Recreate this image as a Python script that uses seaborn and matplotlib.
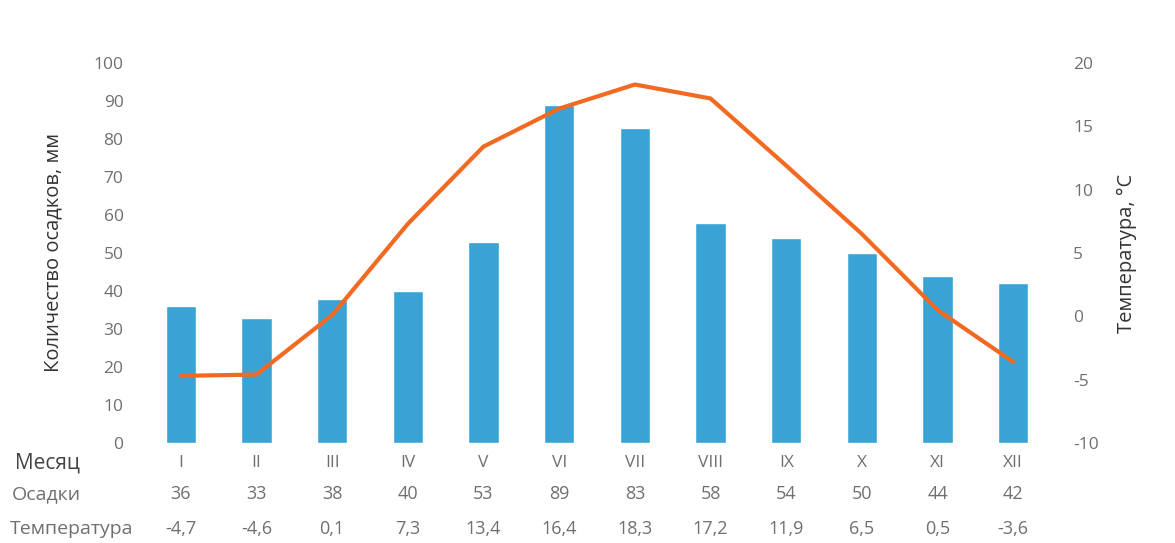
import matplotlib
matplotlib.use("Agg")
import matplotlib.pyplot as plt
import matplotlib.transforms as mtransforms
import seaborn as sns
import pandas as pd
import numpy as np

months = ["I", "II", "III", "IV", "V", "VI", "VII", "VIII", "IX", "X", "XI", "XII"]
precip = [36, 33, 38, 40, 53, 89, 83, 58, 54, 50, 44, 42]
temp = [-4.7, -4.6, 0.1, 7.3, 13.4, 16.4, 18.3, 17.2, 11.9, 6.5, 0.5, -3.6]
precip_labels = [str(v) for v in precip]
temp_labels = [f"{v:.1f}".replace(".", ",") for v in temp]
left_ticks = list(range(0, 101, 10))
right_ticks = list(range(-10, 21, 5))

sns.set_theme(style="white")
plt.rcParams['font.family'] = ['Open Sans', 'DejaVu Sans']

df = pd.DataFrame({"month": months, "precip": precip, "temp": temp, "idx": np.arange(len(months))})

grey = "#6f6f6f"
fig = plt.figure(figsize=(11.75, 5.43), dpi=100)
ax = fig.add_axes([0.1217, 0.1842, 0.7728, 0.6998])
sns.barplot(data=df, x="month", y="precip", color="#3aa3d5", saturation=1, width=0.4, ax=ax)
ax.set_ylim(0, 100)
ax.set_xlim(-0.5, len(months) - 0.5)
ax.set_yticks(left_ticks)
ax.set_yticklabels([str(t) for t in left_ticks], color=grey, fontsize=12.5)
ax.tick_params(axis="y", length=0, pad=14)
ax.tick_params(axis="x", length=0, pad=9, labelsize=12.5, labelcolor=grey)
ax.set_xlabel("")
ax.set_ylabel("Количество осадков, мм", fontsize=14.5, color="#333333", labelpad=22)
for s in ax.spines.values():
    s.set_visible(False)

ax2 = ax.twinx()
sns.lineplot(data=df, x="idx", y="temp", color="#f26a21", linewidth=3, ax=ax2)
ax2.set_ylim(-10, 20)
ax2.set_xlim(-0.5, len(months) - 0.5)
ax2.set_yticks(right_ticks)
ax2.set_yticklabels([str(t) for t in right_ticks], color=grey, fontsize=12.5)
ax2.tick_params(axis="y", length=0, pad=16)
ax2.set_ylabel("Температура, °С", fontsize=14.5, color="#333333", labelpad=13)
ax2.set_xlabel("")
for s in ax2.spines.values():
    s.set_visible(False)

trans = mtransforms.blended_transform_factory(ax.transData, fig.transFigure)
y_prec = 1 - 494 / 543
y_temp = 1 - 529 / 543
for i in range(len(months)):
    ax.text(i, y_prec, precip_labels[i], transform=trans, ha="center", va="center", fontsize=13, color=grey)
    ax.text(i, y_temp, temp_labels[i], transform=trans, ha="center", va="center", fontsize=13, color=grey)

fig.text(15 / 1175, 1 - 463 / 543, "Месяц", ha="left", va="center", fontsize=15, color="#444444")
fig.text(12 / 1175, y_prec, "Осадки", ha="left", va="center", fontsize=14, color=grey)
fig.text(10 / 1175, y_temp, "Температура", ha="left", va="center", fontsize=14, color=grey)

fig.savefig("out.png", dpi=100, facecolor="white")
